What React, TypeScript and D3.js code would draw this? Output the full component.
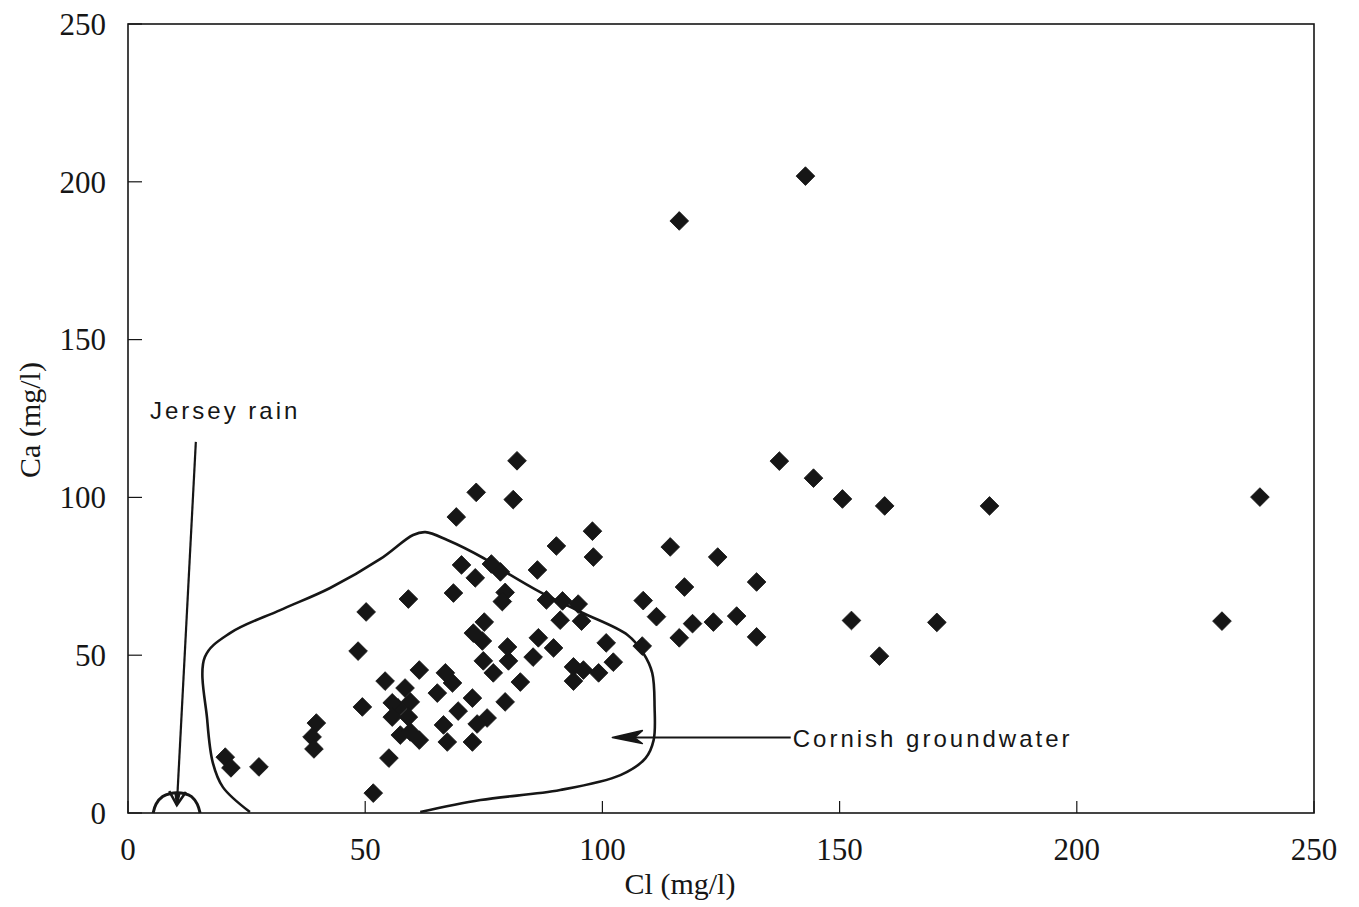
import React, { useEffect, useRef } from "react";
import * as d3 from "d3";

const W = 1359;
const H = 907;
const M = { left: 128, right: 1314, top: 24, bottom: 813 };

const xTicks = [0, 50, 100, 150, 200, 250];
const yTicks = [0, 50, 100, 150, 200, 250];

// Cl (mg/l)
const clValues = [
  142.8, 116.2, 82.0, 73.4, 81.2, 69.2, 137.3, 144.5, 150.6, 159.5, 181.6, 238.6, 230.6, 152.5, 170.5, 158.4,
  97.9, 90.3, 98.1, 114.3, 124.3, 132.5, 117.3, 108.6, 111.4, 119.0, 123.4, 128.3, 116.2, 132.5, 108.4, 100.8,
  102.3, 99.2, 96.0, 93.9, 93.9, 95.6, 91.1, 94.9, 91.6, 88.2, 86.3, 89.7, 86.5, 85.4, 82.7, 80.2,
  80.0, 79.5, 78.9, 78.5, 76.6, 70.3, 73.2, 68.6, 75.1, 72.8, 74.7, 74.9, 77.0, 79.5, 75.7, 73.6,
  72.6, 72.6, 69.6, 66.9, 68.4, 65.2, 66.5, 67.3, 61.4, 59.1, 50.2, 48.5, 54.2, 58.4, 59.5, 56.9,
  55.7, 55.7, 59.1, 57.4, 59.5, 61.4, 55.0, 51.7, 49.4, 39.7, 38.8, 39.2, 20.5, 21.7, 27.6,
];
// Ca (mg/l)
const caValues = [
  201.8, 187.6, 111.6, 101.6, 99.3, 93.8, 111.5, 106.1, 99.5, 97.3, 97.3, 100.1, 60.8, 61.0, 60.4, 49.7,
  89.3, 84.6, 81.1, 84.3, 81.1, 73.2, 71.6, 67.3, 62.2, 60.0, 60.5, 62.4, 55.5, 55.8, 52.9, 53.9,
  47.8, 44.4, 45.3, 46.3, 41.8, 60.8, 61.1, 66.2, 67.2, 67.5, 77.0, 52.3, 55.5, 49.4, 41.5, 48.2,
  52.6, 69.9, 67.0, 76.4, 78.9, 78.6, 74.5, 69.7, 60.5, 57.0, 54.5, 48.2, 44.4, 35.2, 30.1, 28.2,
  36.4, 22.5, 32.3, 44.4, 41.2, 38.0, 27.9, 22.5, 45.3, 67.8, 63.7, 51.3, 41.8, 39.6, 35.2, 33.3,
  34.9, 30.4, 30.4, 24.7, 25.7, 23.1, 17.4, 6.3, 33.6, 28.5, 24.1, 20.3, 17.7, 14.3, 14.6,
];

// Cornish groundwater envelope (hand drawn), in data units
const envX = [25.7, 20.0, 17.9, 16.7, 16.2, 21.5, 32.1, 42.6, 53.2, 60.1, 62.7, 67.3, 74.9, 80.0, 86.9, 95.4,
  105.3, 108.6, 110.5, 111.0, 110.8, 109.1, 103.8, 91.1, 74.3, 61.6];
const envY = [0.3, 8.2, 15.8, 29.5, 49.4, 57.0, 64.3, 71.3, 80.5, 88.1, 89.0, 86.5, 80.8, 76.0, 70.0, 63.7,
  56.4, 50.7, 44.4, 33.6, 23.1, 17.4, 12.0, 7.3, 4.1, 0.3];

// Jersey rain dome, in data units
const rainX = [5.3, 5.9, 7.3, 9.0, 10.3, 11.8, 13.4, 14.6, 15.2];
const rainY = [0, 2.8, 5.2, 6.2, 6.4, 6.2, 5.2, 2.8, 0];

const labelJersey = "Jersey rain";
const labelCornish = "Cornish groundwater";

export default function App() {
  const ref = useRef<SVGSVGElement>(null);

  useEffect(() => {
    const svg = d3.select(ref.current);
    svg.selectAll("*").remove();

    const x = d3.scaleLinear().domain([0, 250]).range([M.left, M.right]);
    const y = d3.scaleLinear().domain([0, 250]).range([M.bottom, M.top]);
    const ink = "#161616";
    const serif = "'Liberation Serif', 'Times New Roman', serif";
    const sans = "'Liberation Sans', Arial, sans-serif";

    // frame
    svg.append("rect")
      .attr("x", M.left).attr("y", M.top)
      .attr("width", M.right - M.left).attr("height", M.bottom - M.top)
      .attr("fill", "none").attr("stroke", ink).attr("stroke-width", 1.6);

    // ticks (inward)
    const g = svg.append("g");
    yTicks.forEach((t) => {
      g.append("line").attr("x1", M.left).attr("x2", M.left + 14)
        .attr("y1", y(t)).attr("y2", y(t)).attr("stroke", ink).attr("stroke-width", 1.2);
      g.append("text").attr("x", 106).attr("y", y(t)).attr("dy", "0.35em")
        .attr("text-anchor", "end").attr("font-family", serif).attr("font-size", 31)
        .attr("fill", ink).text(String(t));
    });
    xTicks.forEach((t) => {
      g.append("line").attr("x1", x(t)).attr("x2", x(t))
        .attr("y1", M.bottom).attr("y2", M.bottom - 12).attr("stroke", ink).attr("stroke-width", 1.2);
      g.append("text").attr("x", x(t)).attr("y", 860)
        .attr("text-anchor", "middle").attr("font-family", serif).attr("font-size", 31)
        .attr("fill", ink).text(String(t));
    });

    svg.append("text").attr("x", 680).attr("y", 894).attr("text-anchor", "middle")
      .attr("font-family", serif).attr("font-size", 30).attr("fill", ink).text("Cl (mg/l)");
    svg.append("text").attr("transform", "translate(40,420) rotate(-90)").attr("text-anchor", "middle")
      .attr("font-family", serif).attr("font-size", 30).attr("fill", ink).text("Ca (mg/l)");

    // envelope
    const env = envX.map((v, i) => [v, envY[i]] as [number, number]);
    const line = d3.line<[number, number]>().x((d) => x(d[0])).y((d) => y(d[1])).curve(d3.curveCatmullRom.alpha(0.5));
    svg.append("path").attr("d", line(env)).attr("fill", "none").attr("stroke", ink).attr("stroke-width", 2.6);

    // jersey rain dome
    const rain = rainX.map((v, i) => [v, rainY[i]] as [number, number]);
    svg.append("path").attr("d", line(rain)).attr("fill", "none").attr("stroke", ink).attr("stroke-width", 3);

    // Jersey arrow
    const ax0 = x(14.3), ay0 = y(117.6), ax1 = x(10.3), ay1 = y(2.5);
    svg.append("line").attr("x1", ax0).attr("y1", ay0).attr("x2", ax1).attr("y2", ay1)
      .attr("stroke", ink).attr("stroke-width", 2.2);
    const ang = Math.atan2(ay1 - ay0, ax1 - ax0);
    const head = (len: number, spread: number) => {
      const a1 = ang + Math.PI - spread, a2 = ang + Math.PI + spread;
      return `M${ax1 + len * Math.cos(a1)},${ay1 + len * Math.sin(a1)} L${ax1},${ay1} L${ax1 + len * Math.cos(a2)},${ay1 + len * Math.sin(a2)}`;
    };
    svg.append("path").attr("d", head(16, 0.55)).attr("fill", "none").attr("stroke", ink).attr("stroke-width", 2.6);
    svg.append("path").attr("d", head(12, 0.18) + "Z").attr("fill", ink).attr("stroke", ink).attr("stroke-width", 2);

    svg.append("text").attr("x", 150).attr("y", 419)
      .attr("font-family", sans).attr("font-size", 24).attr("letter-spacing", 3)
      .attr("fill", ink).text(labelJersey);

    // Cornish arrow
    const cx0 = x(139.7), cy0 = y(23.9), cx1 = x(102.1);
    svg.append("line").attr("x1", cx0).attr("y1", cy0).attr("x2", cx1 + 10).attr("y2", cy0)
      .attr("stroke", ink).attr("stroke-width", 2);
    svg.append("path")
      .attr("d", `M${cx1},${cy0} L${cx1 + 30},${cy0 - 7} L${cx1 + 22},${cy0} L${cx1 + 30},${cy0 + 6} Z`)
      .attr("fill", ink).attr("stroke", ink).attr("stroke-width", 1.5).attr("stroke-linejoin", "round");

    svg.append("text").attr("x", x(139.7) + 2).attr("y", 747)
      .attr("font-family", sans).attr("font-size", 24).attr("letter-spacing", 3)
      .attr("fill", ink).text(labelCornish);

    // points
    const sym = d3.symbol().type(d3.symbolSquare).size(175);
    svg.append("g").selectAll("path").data(clValues.map((v, i) => [v, caValues[i]]))
      .join("path")
      .attr("d", sym() as string)
      .attr("transform", (d) => `translate(${x(d[0])},${y(d[1])}) rotate(45)`)
      .attr("fill", ink)
      .attr("stroke", ink)
      .attr("stroke-width", 0.8);
  }, []);

  return (
    <div style={{ position: "absolute", left: 0, top: 0 }}>
      <svg ref={ref} width={W} height={H} style={{ display: "block", background: "#fff" }} />
    </div>
  );
}
